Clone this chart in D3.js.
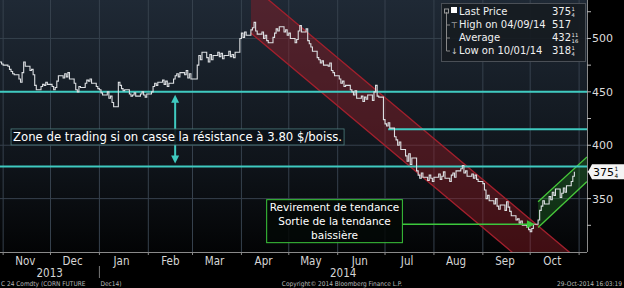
<!DOCTYPE html>
<html>
<head>
<meta charset="utf-8">
<script src="https://cdn.jsdelivr.net/npm/d3@7"></script>
<style>
  html, body { margin: 0; padding: 0; background: #000; }
  svg { display: block; }
</style>
</head>
<body>
<svg id="chart" width="624" height="288"></svg>
<script>
// --- données (clôtures quotidiennes, lecture approximative du graphique) ---
const firstDay = new Date(2013, 9, 30);
const closes = [
  478, 476,
  // nov 2013
  475, 474, 471, 469, 467, 466, 462, 459, 468, 478, 474, 470, 471, 466, 456, 452, 455, 457, 456, 459, 457,
  // dec 2013
  455, 452, 454, 460, 465, 463, 467, 464, 468, 462, 458, 452, 450, 455, 454, 458, 461, 460, 462, 458, 455, 453,
  // jan 2014
  452, 449, 447, 450, 444, 446, 440, 436, 459, 456, 453, 451, 452, 448, 446, 447, 449, 446, 448, 450, 447, 445, 448,
  // feb
  450, 455, 458, 456, 459, 461, 457, 460, 455, 458, 462, 465, 467, 464, 468, 466, 470, 463, 467, 462,
  // mar
  462, 475, 484, 480, 487, 482, 478, 485, 480, 484, 487, 483, 486, 481, 484, 488, 483, 485, 482, 487, 500,
  // apr
  505, 501, 506, 503, 508, 510, 515, 507, 504, 506, 500, 503, 498, 496, 501, 505, 509, 507, 511, 506, 508, 503,
  // may
  505, 500, 496, 499, 507, 512, 506, 509, 498, 495, 492, 488, 482, 480, 477, 479, 475, 474, 477, 470, 468, 465,
  // jun
  462, 458, 460, 455, 456, 452, 450, 447, 451, 444, 446, 441, 445, 443, 447, 442, 450, 456, 446, 445, 424,
  // jul
  420, 418, 421, 416, 408, 405, 400, 403, 396, 390, 385, 392, 382, 388, 376, 372, 369, 374, 370, 367, 372, 369, 366,
  // aug
  370, 373, 368, 371, 375, 369, 366, 372, 374, 370, 376, 378, 381, 374, 376, 371, 373, 369, 372, 368, 366,
  // sep
  364, 358, 350, 353, 348, 345, 350, 343, 340, 344, 339, 347, 342, 338, 334, 330, 331, 327, 329, 325, 323, 321,
  // oct
  319, 322, 326, 330, 339, 343, 348, 345, 352, 349, 356, 353, 359, 351, 355, 360, 356, 362, 366, 371, 375.25
];

const monthLabels = ["Nov", "Dec", "Jan", "Feb", "Mar", "Apr", "May", "Jun", "Jul", "Aug", "Sep", "Oct"];
const yearLabels = ["2013", "2014"];
const priceTicks = [350, 400, 450, 500];
const minorTicks = [325, 375, 425, 475, 525];

// niveaux horizontaux (cyan)
const fullLevels = [450, 380];
const resistLevel = { price: 415, from: new Date(2014, 6, 3) };
const zoneArrowDate = new Date(2014, 1, 18);

// canal baissier (rouge) et canal haussier (vert)
const downDates = [new Date(2014, 3, 7), new Date(2014, 10, 6)];
const downUpper = [550, 286];
const downLower = [505, 241];
const upDates = [new Date(2014, 9, 6), new Date(2014, 10, 6)];
const upUpper = [347, 389];
const upLower = [323, 366];
const exitArrow = { from: new Date(2014, 6, 12), to: new Date(2014, 9, 4), price: 326 };

const legendLabels = ["Last Price", "High on 04/09/14", "Average", "Low on 10/01/14"];
const legendValues = ["375", "517", "432", "318"];
const legendFracs = [["1", "4"], null, ["11", "16"], ["1", "4"]];

// --- mise en page ---
const svg = d3.select("#chart");
const plotW = 587, plotH = 252;
const font = "'DejaVu Sans', sans-serif";
const condensed = "'DejaVu Sans Condensed', 'DejaVu Sans', sans-serif";

const x = d3.scaleTime()
  .domain([new Date(2013, 9, 30), new Date(2014, 10, 6)])
  .range([0, plotW]);
const y = d3.scaleLinear().domain([300, 536]).range([plotH, 0]);

// dates de bourse (jours ouvrés)
const days = [];
{
  let d = new Date(firstDay);
  while (days.length < closes.length) {
    if (d.getDay() !== 0 && d.getDay() !== 6) days.push(new Date(d));
    d = d3.timeDay.offset(d, 1);
  }
}
const series = closes.map((c, i) => ({ date: days[i], close: c }));

const defs = svg.append("defs");
const grad = defs.append("linearGradient").attr("id", "bg")
  .attr("x1", 0).attr("y1", 0).attr("x2", 0).attr("y2", 1);
grad.append("stop").attr("offset", "0%").attr("stop-color", "#1f2935");
grad.append("stop").attr("offset", "65%").attr("stop-color", "#0f141a");
grad.append("stop").attr("offset", "100%").attr("stop-color", "#030405");
defs.append("clipPath").attr("id", "plotclip")
  .append("rect").attr("width", plotW).attr("height", plotH);

svg.append("rect").attr("width", 624).attr("height", 288).attr("fill", "#000");
svg.append("rect").attr("width", plotW).attr("height", plotH).attr("fill", "url(#bg)");

// grille
const monthStarts = d3.timeMonth.range(new Date(2013, 10, 1), new Date(2014, 10, 7));
svg.append("g").selectAll("line").data(monthStarts).join("line")
  .attr("x1", d => x(d)).attr("x2", d => x(d))
  .attr("y1", 0).attr("y2", plotH)
  .attr("stroke", "#36414d").attr("stroke-width", 1);
svg.append("g").selectAll("line").data(priceTicks).join("line")
  .attr("x1", 0).attr("x2", plotW)
  .attr("y1", d => y(d)).attr("y2", d => y(d))
  .attr("stroke", "#36414d").attr("stroke-width", 1);

// canaux
const plot = svg.append("g").attr("clip-path", "url(#plotclip)");
function channel(dates, upper, lower, fill, stroke) {
  const poly = [[x(dates[0]), y(upper[0])], [x(dates[1]), y(upper[1])],
                [x(dates[1]), y(lower[1])], [x(dates[0]), y(lower[0])]];
  plot.append("path").attr("d", "M" + poly.join("L") + "Z").attr("fill", fill);
  [upper, lower].forEach(p => {
    plot.append("line")
      .attr("x1", x(dates[0])).attr("y1", y(p[0]))
      .attr("x2", x(dates[1])).attr("y2", y(p[1]))
      .attr("stroke", stroke).attr("stroke-width", 1.3);
  });
}
channel(downDates, downUpper, downLower, "rgba(150,28,38,0.42)", "#a3202d");
channel(upDates, upUpper, upLower, "rgba(40,150,40,0.28)", "#47c83a");

// niveaux cyan
const cyan = "#3fcac0";
plot.selectAll(".lvl").data(fullLevels).join("line")
  .attr("x1", 0).attr("x2", plotW)
  .attr("y1", d => y(d)).attr("y2", d => y(d))
  .attr("stroke", cyan).attr("stroke-width", 2);
plot.append("line")
  .attr("x1", x(resistLevel.from)).attr("x2", plotW)
  .attr("y1", y(resistLevel.price)).attr("y2", y(resistLevel.price))
  .attr("stroke", cyan).attr("stroke-width", 2);

// cours (barres quotidiennes en escalier)
const priceLine = d3.line().x(d => x(d.date)).y(d => y(d.close)).curve(d3.curveStepAfter);
plot.append("path").datum(series)
  .attr("d", priceLine)
  .attr("fill", "none").attr("stroke", "#dcdfe2").attr("stroke-width", 1.1);

// flèche double cyan
const ax = x(zoneArrowDate);
const aTop = y(fullLevels[0]) + 3, aBot = y(fullLevels[1]) - 3;
svg.append("line").attr("x1", ax).attr("x2", ax).attr("y1", aTop + 4).attr("y2", aBot - 4)
  .attr("stroke", cyan).attr("stroke-width", 2);
svg.append("path").attr("d", `M${ax},${aTop}L${ax - 4},${aTop + 8}L${ax + 4},${aTop + 8}Z`).attr("fill", cyan);
svg.append("path").attr("d", `M${ax},${aBot}L${ax - 4},${aBot - 8}L${ax + 4},${aBot - 8}Z`).attr("fill", cyan);

// boîte "Zone de trading"
const zoneG = svg.append("g");
const zoneX = x(new Date(2013, 10, 6)), zoneY = y(404);
const zoneBox = zoneG.append("rect");
const zoneText = zoneG.append("text")
  .attr("x", zoneX + 2).attr("y", zoneY)
  .attr("font-family", font).attr("font-size", 11.7).attr("fill", "#ffffff")
  .text("Zone de trading si on casse la résistance à 3.80 $/boiss.");
{
  const b = zoneText.node().getBBox();
  zoneBox.attr("x", b.x - 2).attr("y", b.y - 1).attr("width", b.width + 4).attr("height", b.height + 2)
    .attr("fill", "rgba(12,18,24,0.9)").attr("stroke", "#4f7f80").attr("stroke-width", 0.8);
}

// flèche verte + boîte
const green = "#3cc83c";
const gy = y(exitArrow.price);
svg.append("line").attr("x1", x(exitArrow.from)).attr("x2", x(exitArrow.to) - 6)
  .attr("y1", gy).attr("y2", gy).attr("stroke", green).attr("stroke-width", 1.5);
const gx = x(exitArrow.to);
svg.append("path").attr("d", `M${gx},${gy}L${gx - 8},${gy - 4}L${gx - 8},${gy + 4}Z`).attr("fill", green);

const boxLeft = x(new Date(2014, 3, 17)), boxTop = y(349);
const boxW = x(exitArrow.from) - boxLeft, boxH = 43;
svg.append("rect").attr("x", boxLeft).attr("y", boxTop).attr("width", boxW).attr("height", boxH)
  .attr("fill", "rgba(4,8,6,0.85)").attr("stroke", green).attr("stroke-width", 1);
svg.append("text").attr("font-family", font).attr("font-size", 10.5).attr("fill", "#ffffff")
  .attr("text-anchor", "middle")
  .selectAll("tspan").data(["Revirement de tendance", "Sortie de la tendance", "baissière"]).join("tspan")
  .attr("x", boxLeft + boxW / 2).attr("y", (d, i) => boxTop + 11 + i * 14)
  .text(d => d);

// axe x
svg.append("line").attr("x1", 0).attr("x2", plotW).attr("y1", plotH + 0.5).attr("y2", plotH + 0.5)
  .attr("stroke", "#8a8a8a").attr("stroke-width", 1);
svg.append("g").selectAll("line").data(monthStarts).join("line")
  .attr("x1", d => x(d)).attr("x2", d => x(d))
  .attr("y1", plotH).attr("y2", plotH + 3).attr("stroke", "#8a8a8a");
const midMonths = monthStarts.slice(0, monthLabels.length).map(d => d3.timeDay.offset(d, 14));
svg.append("g").selectAll("text").data(monthLabels).join("text")
  .attr("x", (d, i) => x(midMonths[i])).attr("y", 265)
  .attr("text-anchor", "middle").attr("font-family", condensed).attr("font-size", 11.5)
  .attr("fill", "#d6d6d6").text(d => d);
const yearBounds = [[x.domain()[0], new Date(2014, 0, 1)], [new Date(2014, 0, 1), x.domain()[1]]];
svg.append("g").selectAll("text").data(yearLabels).join("text")
  .attr("x", (d, i) => (x(yearBounds[i][0]) + x(yearBounds[i][1])) / 2).attr("y", 277)
  .attr("text-anchor", "middle").attr("font-family", condensed).attr("font-size", 11.5)
  .attr("fill", "#d6d6d6").text(d => d);
svg.append("line").attr("x1", x(new Date(2014, 0, 1))).attr("x2", x(new Date(2014, 0, 1)))
  .attr("y1", 266).attr("y2", 278).attr("stroke", "#777");

// axe y (droite)
svg.append("line").attr("x1", plotW + 0.5).attr("x2", plotW + 0.5).attr("y1", 0).attr("y2", plotH)
  .attr("stroke", "#8a8a8a");
svg.append("g").selectAll("line").data(priceTicks.concat(minorTicks)).join("line")
  .attr("x1", plotW).attr("x2", plotW + 4)
  .attr("y1", d => y(d)).attr("y2", d => y(d)).attr("stroke", "#bbb");
svg.append("g").selectAll("text").data(priceTicks).join("text")
  .attr("x", plotW + 5).attr("y", d => y(d) + 4)
  .attr("font-family", font).attr("font-size", 11).attr("fill", "#dcdcdc").text(d => d);

// prix avec fraction (numérateur au-dessus, dénominateur dessous)
function fracText(g, px, py, whole, frac, size, color) {
  const t = g.append("text").attr("x", px).attr("y", py)
    .attr("font-family", font).attr("font-size", size).attr("fill", color).text(whole);
  if (!frac) return;
  const w = t.node().getComputedTextLength();
  const fs = size * 0.52;
  g.append("text").attr("x", px + w + 0.5).attr("y", py - size * 0.42)
    .attr("font-family", font).attr("font-size", fs).attr("fill", color).text(frac[0]);
  g.append("text").attr("x", px + w + 0.5).attr("y", py + size * 0.18)
    .attr("font-family", font).attr("font-size", fs).attr("fill", color).text(frac[1]);
}

// étiquette du dernier cours
const last = series[series.length - 1];
const ly = y(last.close);
svg.append("path")
  .attr("d", `M${plotW + 1},${ly}L${plotW + 5},${ly - 7.5}L624,${ly - 7.5}L624,${ly + 7.5}L${plotW + 5},${ly + 7.5}Z`)
  .attr("fill", "#f4f4f4");
fracText(svg, plotW + 6, ly + 4, "375", ["1", "4"], 11, "#000");

// légende
const lg = svg.append("g");
lg.append("rect").attr("x", 441.5).attr("y", 3.5).attr("width", 144).attr("height", 58)
  .attr("fill", "rgba(22,27,33,0.92)").attr("stroke", "#4a4f56");
const rowY = [15, 28, 41, 54];
lg.append("line").attr("x1", 446.5).attr("x2", 446.5).attr("y1", rowY[0] - 3).attr("y2", rowY[3] - 3)
  .attr("stroke", "#888");
lg.append("rect").attr("x", 444.5).attr("y", rowY[0] - 6).attr("width", 4).attr("height", 4)
  .attr("fill", "none").attr("stroke", "#999");
lg.append("rect").attr("x", 451).attr("y", rowY[0] - 8).attr("width", 6).attr("height", 6).attr("fill", "#fff");
rowY.slice(1).forEach((ry, i) => {
  lg.append("line").attr("x1", 446.5).attr("x2", 450).attr("y1", ry - 3).attr("y2", ry - 3).attr("stroke", "#888");
});
lg.append("text").attr("x", 451).attr("y", rowY[1]).attr("font-family", font).attr("font-size", 8)
  .attr("fill", "#ccc").text("⊤");
lg.append("text").attr("x", 451).attr("y", rowY[3]).attr("font-family", font).attr("font-size", 8)
  .attr("fill", "#ccc").text("↓");
legendLabels.forEach((lab, i) => {
  lg.append("text").attr("x", 459).attr("y", rowY[i]).attr("font-family", font).attr("font-size", 10)
    .attr("fill", "#f0f0f0").text(lab);
  fracText(lg, 552, rowY[i], legendValues[i], legendFracs[i], 10, "#f0f0f0");
});

// pied de page
const foot = svg.append("g").attr("font-family", condensed).attr("font-size", 6.5).attr("fill", "#b8b8b8");
foot.append("text").attr("x", 1).attr("y", 286).text("C 24 Comdty (CORN FUTURE");
foot.append("text").attr("x", x(new Date(2014, 0, 1)) + 1).attr("y", 286).text("Dec14)");
foot.append("text").attr("x", 342).attr("y", 286).attr("text-anchor", "middle").text("Copyright© 2014 Bloomberg Finance L.P.");
foot.append("text").attr("x", 622).attr("y", 286).attr("text-anchor", "end").text("29-Oct-2014 16:03:19");
</script>
</body>
</html>
